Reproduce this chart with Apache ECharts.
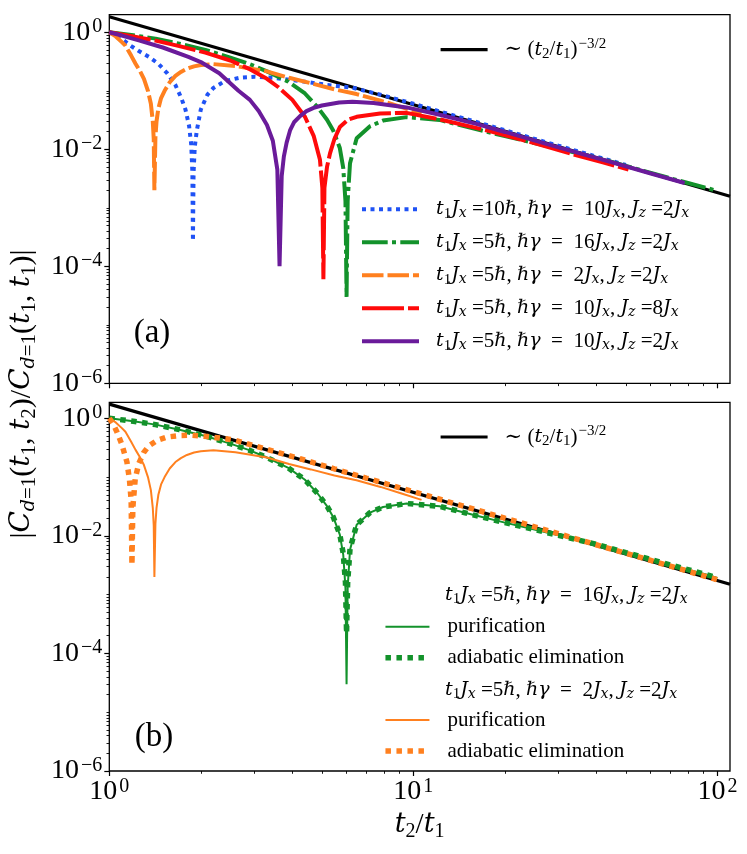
<!DOCTYPE html>
<html lang="en">
<head>
  <meta charset="UTF-8">
  <title>Correlation decay</title>
  <style>
    body { margin: 0; background: #fff; }
  </style>
</head>
<body>
<div id="main" style="width: 747px;height:854px;"></div>
<script src="https://cdn.jsdelivr.net/npm/echarts@6/dist/echarts.min.js"></script>
<script type="text/javascript">
  // values, [t2/t1, |C(t1,t2)/C(t1,t1)|]
  const blackA = [[1, 1.84], [110, 0.00158]]
  const blackB = [[1, 1.74], [110, 0.0015]]

  const blueA = [[1, 1], [1.05, 0.88], [1.1, 0.77], [1.17, 0.6], [1.25, 0.48], [1.35, 0.38], [1.45, 0.29],
    [1.55, 0.2], [1.65, 0.125], [1.72, 0.078], [1.78, 0.048], [1.83, 0.025], [1.86, 0.012], [1.876, 0.004],
    [1.884, 0.00027], [1.893, 0.004], [1.91, 0.011], [1.94, 0.021], [2.0, 0.048], [2.1, 0.085], [2.2, 0.112],
    [2.4, 0.147], [2.7, 0.168], [3.0, 0.174], [3.5, 0.166], [4.4, 0.143], [5.2, 0.126], [6.3, 0.113],
    [8, 0.083], [10, 0.06], [14, 0.0362], [20, 0.0212], [30, 0.0115], [40, 0.0075], [50, 0.0054]]

  const greenPur = [[1, 1], [1.2, 0.89], [1.42, 0.78], [1.7, 0.64], [2.07, 0.5], [2.5, 0.37], [2.87, 0.29],
    [3.3, 0.215], [3.88, 0.143], [4.4, 0.09], [4.85, 0.052], [5.2, 0.032], [5.45, 0.021], [5.73, 0.0105],
    [5.88, 0.0048], [5.98, 0.0013], [6.03, 0.00003], [6.08, 0.0013], [6.19, 0.0058], [6.51, 0.0155],
    [7.2, 0.0248], [7.95, 0.031], [9.5, 0.0355], [12.2, 0.0318], [15.7, 0.0228], [20, 0.0168], [25, 0.0128],
    [30, 0.0102], [40, 0.0072], [50, 0.0052], [70, 0.0032], [91.8, 0.0022], [100, 0.00193]]

  const greenAE = [[1, 1], [1.2, 0.89], [1.42, 0.78], [1.7, 0.64], [2.07, 0.5], [2.5, 0.37], [2.87, 0.29],
    [3.3, 0.215], [3.88, 0.143], [4.4, 0.09], [4.85, 0.052], [5.2, 0.032], [5.45, 0.021], [5.73, 0.0105],
    [5.88, 0.005], [5.98, 0.0016], [6.03, 0.00022], [6.08, 0.0016], [6.19, 0.006], [6.51, 0.0155],
    [7.2, 0.0248], [7.95, 0.031], [9.5, 0.0355], [12.2, 0.0318], [15.7, 0.0228], [20, 0.0168], [25, 0.0128],
    [30, 0.0102], [40, 0.0072], [50, 0.0052], [70, 0.0032], [91.8, 0.0022], [100, 0.00193]]

  const orangePur = [[1, 1], [1.05, 0.85], [1.1, 0.68], [1.13, 0.59], [1.18, 0.4], [1.22, 0.29], [1.26, 0.22],
    [1.3, 0.16], [1.34, 0.1], [1.37, 0.06], [1.39, 0.03], [1.4, 0.015], [1.407, 0.002], [1.418, 0.016],
    [1.43, 0.03], [1.45, 0.05], [1.48, 0.075], [1.52, 0.1], [1.58, 0.14], [1.65, 0.18], [1.72, 0.21],
    [1.8, 0.238], [1.9, 0.262], [2.0, 0.276], [2.2, 0.286], [2.6, 0.265], [3.3, 0.215], [3.9, 0.167],
    [4.6, 0.135], [5.5, 0.106], [6.5, 0.088], [7.8, 0.068], [9.2, 0.052], [10.64, 0.041]]

  const orangeAE = [[1, 1], [1.03, 0.8], [1.06, 0.58], [1.1, 0.36], [1.143, 0.18], [1.165, 0.09], [1.18, 0.04],
    [1.187, 0.0032], [1.195, 0.03], [1.217, 0.094], [1.25, 0.17], [1.297, 0.26], [1.35, 0.34], [1.435, 0.42],
    [1.55, 0.48], [1.71, 0.51], [1.85, 0.515], [2.1, 0.49], [2.56, 0.43], [3.2, 0.31], [4.24, 0.205],
    [5.5, 0.138], [7, 0.096], [10, 0.0565], [15, 0.0308], [20, 0.02], [30, 0.0109], [45, 0.0059],
    [60, 0.00385], [80, 0.0025], [100, 0.00179]]

  const redA = [[1, 1], [1.2, 0.85], [1.42, 0.72], [1.7, 0.58], [2.07, 0.45], [2.5, 0.33], [2.87, 0.24],
    [3.3, 0.16], [3.6, 0.115], [4.0, 0.07], [4.4, 0.036], [4.7, 0.017], [4.93, 0.0066], [5.02, 0.0022],
    [5.06, 0.00006], [5.1, 0.0022], [5.2, 0.005], [5.32, 0.0085], [5.5, 0.015], [5.73, 0.024], [6.1, 0.032],
    [6.51, 0.036], [7.77, 0.041], [9.5, 0.042], [12.2, 0.0325], [17.8, 0.0205], [25, 0.0128], [33.5, 0.0082],
    [42, 0.006], [51, 0.0045]]

  const purpleA = [[1, 1], [1.1, 0.88], [1.25, 0.73], [1.5, 0.55], [1.82, 0.38], [2.0, 0.31], [2.3, 0.2],
    [2.66, 0.1], [2.9, 0.07], [3.1, 0.045], [3.3, 0.026], [3.45, 0.014], [3.57, 0.0045], [3.63, 0.0001],
    [3.69, 0.0035], [3.75, 0.0075], [3.83, 0.013], [3.93, 0.021], [4.05, 0.029], [4.24, 0.037], [4.45, 0.045],
    [4.7, 0.051], [5.0, 0.056], [5.7, 0.063], [6.3, 0.065], [7.4, 0.062], [9.5, 0.052], [12.2, 0.039],
    [16, 0.0275], [20, 0.0198], [30, 0.0108], [45, 0.006], [60, 0.0039], [78, 0.00265]]

  const xMajor = [1, 10, 100]
  const xMinor = [2, 3, 4, 5, 6, 7, 8, 9, 20, 30, 40, 50, 60, 70, 80, 90]
  const yMajor = [1e-6, 1e-4, 1e-2, 1]
  const yMinor = []
  for (let n = -6; n < 0; n++) {
    if (n % 2 !== 0) yMinor.push(Math.pow(10, n))
    for (let k = 2; k < 10; k++) yMinor.push(Number((k * Math.pow(10, n)).toPrecision(6)))
  }

  const FONT = "'Liberation Serif', 'DejaVu Serif', serif"
  const MATH = "'DejaVu Serif', 'Liberation Serif', serif"

  const legendNames = {
    powA: '∼ ({i|t}{s|2}/{i|t}{s|1}){sup|−3/2}',
    powB: '∼ ({i|t}{s|2}/{i|t}{s|1}){sup|−3/2}',
    blueA: '{i|t}{s|1}{i|J}{si|x} =10{i|ℏ}, {i|ℏγ}  =  10{i|J}{si|x}, {i|J}{si|z} =2{i|J}{si|x}',
    greenA: '{i|t}{s|1}{i|J}{si|x} =5{i|ℏ}, {i|ℏγ}  =  16{i|J}{si|x}, {i|J}{si|z} =2{i|J}{si|x}',
    orangeA: '{i|t}{s|1}{i|J}{si|x} =5{i|ℏ}, {i|ℏγ}  =  2{i|J}{si|x}, {i|J}{si|z} =2{i|J}{si|x}',
    redA: '{i|t}{s|1}{i|J}{si|x} =5{i|ℏ}, {i|ℏγ}  =  10{i|J}{si|x}, {i|J}{si|z} =8{i|J}{si|x}',
    purpleA: '{i|t}{s|1}{i|J}{si|x} =5{i|ℏ}, {i|ℏγ}  =  10{i|J}{si|x}, {i|J}{si|z} =2{i|J}{si|x}',
    pur16: 'purification',
    ae16: 'adiabatic elimination',
    pur2: 'purification',
    ae2: 'adiabatic elimination'
  }
  const header16 = '{i|t}{s|1}{i|J}{si|x} =5{i|ℏ}, {i|ℏγ}  =  16{i|J}{si|x}, {i|J}{si|z} =2{i|J}{si|x}'
  const header2 = '{i|t}{s|1}{i|J}{si|x} =5{i|ℏ}, {i|ℏγ}  =  2{i|J}{si|x}, {i|J}{si|z} =2{i|J}{si|x}'
  const yName = '|{i|C}{si|d}{s|=1}({i|t}{s|1}, {i|t}{s|2})/{i|C}{si|d}{s|=1}({i|t}{s|1}, {i|t}{s|1})|'

  function richSet(size, lh) {
    const small = Math.round(size * 0.7)
    const mi = Math.round(size * 0.92)
    const ms = Math.round(small * 0.92)
    return {
      i: {fontFamily: MATH, fontSize: mi, fontStyle: 'italic', lineHeight: lh},
      s: {fontFamily: FONT, fontSize: small, padding: [Math.round(size * 0.45), 0, 0, 0], lineHeight: lh},
      si: {fontFamily: MATH, fontSize: ms, fontStyle: 'italic', padding: [Math.round(size * 0.45), 0, 0, 0], lineHeight: lh},
      sup: {fontFamily: FONT, fontSize: small, padding: [0, 0, Math.round(size * 0.5), 1], lineHeight: lh}
    }
  }

  const powLabel = (v) => {
    const e = Math.round(Math.log10(v))
    return '10{sup|' + (e < 0 ? '\u2212' + (-e) : e) + '}'
  }

  const tickLine = {color: '#000', width: 1.2}

  function majorAxis(kind, grid, withLabels, extra) {
    const isX = kind === 'x'
    return Object.assign({
      type: 'log',
      logBase: 10,
      gridIndex: grid,
      position: isX ? 'bottom' : 'left',
      min: isX ? 1 : 1e-6,
      max: isX ? 110 : (grid === 0 ? 2 : 1.87),
      axisLine: {show: false},
      splitLine: {show: false},
      axisTick: {show: true, length: 5, lineStyle: tickLine, customValues: isX ? xMajor : yMajor},
      axisLabel: {
        show: withLabels,
        customValues: isX ? xMajor : yMajor,
        formatter: powLabel,
        fontFamily: FONT,
        fontSize: 28,
        lineHeight: 30,
        color: '#000',
        margin: isX ? 6 : 7,
        rich: {sup: {fontFamily: FONT, fontSize: 20, lineHeight: 30, padding: [0, 0, 11, 2]}}
      }
    }, extra || {})
  }

  function minorAxis(kind, grid) {
    const isX = kind === 'x'
    return {
      type: 'log',
      logBase: 10,
      gridIndex: grid,
      position: isX ? 'bottom' : 'left',
      offset: 0,
      min: isX ? 1 : 1e-6,
      max: isX ? 110 : (grid === 0 ? 2 : 1.87),
      axisLine: {show: false},
      splitLine: {show: false},
      axisLabel: {show: false},
      axisTick: {show: true, length: 2.8, lineStyle: {color: '#000', width: 0.9}, customValues: isX ? xMinor : yMinor}
    }
  }

  function line(name, data, grid, color, width, dash) {
    return {
      name: name,
      type: 'line',
      data: data,
      xAxisIndex: grid * 2,
      yAxisIndex: grid * 2,
      symbol: 'none',
      silent: true,
      lineStyle: {color: color, width: width, type: dash || 'solid', cap: 'butt'},
      itemStyle: {color: color}
    }
  }

  const BLUE = '#1f52f5'
  const GREEN = '#13922b'
  const ORANGE = '#ff801f'
  const RED = '#ff0a0a'
  const PURPLE = '#6a1b9a'

  const legendRich = richSet(21, 22)
  function legend(names, left, top, itemWidth, pad) {
    return {
      data: names,
      orient: 'vertical',
      left: left,
      top: top,
      padding: 0,
      itemGap: 9,
      itemWidth: itemWidth,
      itemHeight: 14,
      selectedMode: false,
      itemStyle: {opacity: 0, borderWidth: 0},
      lineStyle: {width: 'inherit'},
      formatter: (n) => legendNames[n],
      textStyle: {fontFamily: FONT, fontSize: 21, lineHeight: 22, color: '#000', padding: [0, 0, 0, pad], rich: legendRich}
    }
  }

  const Chart = echarts.init(document.getElementById('main'))

  const option = {
    animation: false,
    backgroundColor: '#fff',
    textStyle: {fontFamily: FONT},
    grid: [
      {left: 109.3, top: 14.7, width: 620.7, height: 368.6, show: true, borderColor: '#000', borderWidth: 1.3, containLabel: false},
      {left: 109.3, top: 402.3, width: 620.7, height: 368.7, show: true, borderColor: '#000', borderWidth: 1.3, containLabel: false}
    ],
    xAxis: [
      majorAxis('x', 0, false),
      minorAxis('x', 0),
      majorAxis('x', 1, true, {
        name: '{i|t}{s|2}/{i|t}{s|1}',
        nameLocation: 'middle',
        nameGap: 38,
        nameTextStyle: {fontFamily: FONT, fontSize: 29, lineHeight: 32, color: '#000', rich: richSet(29, 32)}
      }),
      minorAxis('x', 1)
    ],
    yAxis: [
      majorAxis('y', 0, true),
      minorAxis('y', 0),
      majorAxis('y', 1, true),
      minorAxis('y', 1)
    ],
    legend: [
      legend(['powA'], 439, 36.7, 47, 12),
      legend(['blueA', 'greenA', 'orangeA', 'redA', 'purpleA'], 360, 197.3, 57, 12),
      legend(['powB'], 439, 424, 47, 12),
      legend(['pur16', 'ae16'], 382.7, 615.7, 44, 13),
      legend(['pur2', 'ae2'], 382.7, 709, 44, 13)
    ],
    graphic: [
      {type: 'text', x: 152, y: 333, silent: true,
        style: {text: '(a)', fontFamily: FONT, fontSize: 33, fill: '#000', align: 'center', verticalAlign: 'middle'}},
      {type: 'text', x: 154, y: 737, silent: true,
        style: {text: '(b)', fontFamily: FONT, fontSize: 33, fill: '#000', align: 'center', verticalAlign: 'middle'}},
      {type: 'text', x: 445, y: 595, silent: true,
        style: {text: header16, fontFamily: FONT, fontSize: 21, lineHeight: 22, fill: '#000', align: 'left', verticalAlign: 'middle', rich: legendRich}},
      {type: 'text', x: 445, y: 690, silent: true,
        style: {text: header2, fontFamily: FONT, fontSize: 21, lineHeight: 22, fill: '#000', align: 'left', verticalAlign: 'middle', rich: legendRich}},
      {type: 'text', x: 22, y: 394, rotation: Math.PI / 2, silent: true,
        style: {text: yName, fontFamily: FONT, fontSize: 30, lineHeight: 32, fill: '#000', align: 'center', verticalAlign: 'middle', rich: richSet(30, 32)}}
    ],
    series: [
      line('powA', blackA, 0, '#000', 3.2),
      line('blueA', blueA, 0, BLUE, 4, [4, 4.5]),
      line('greenA', greenPur, 0, GREEN, 4, [25.7, 4.3, 4, 4.3]),
      line('orangeA', orangePur, 0, ORANGE, 4, [21.5, 4]),
      line('redA', redA, 0, RED, 4, [42, 4]),
      line('purpleA', purpleA, 0, PURPLE, 4),
      line('powB', blackB, 1, '#000', 3.2),
      line('pur16', greenPur, 1, GREEN, 2),
      line('ae16', greenAE, 1, GREEN, 5.5, [5.5, 5.5]),
      line('pur2', orangePur, 1, ORANGE, 2),
      line('ae2', orangeAE, 1, ORANGE, 5.5, [5.5, 5.5])
    ]
  }

  Chart.setOption(option)
</script>
</body>
</html>
